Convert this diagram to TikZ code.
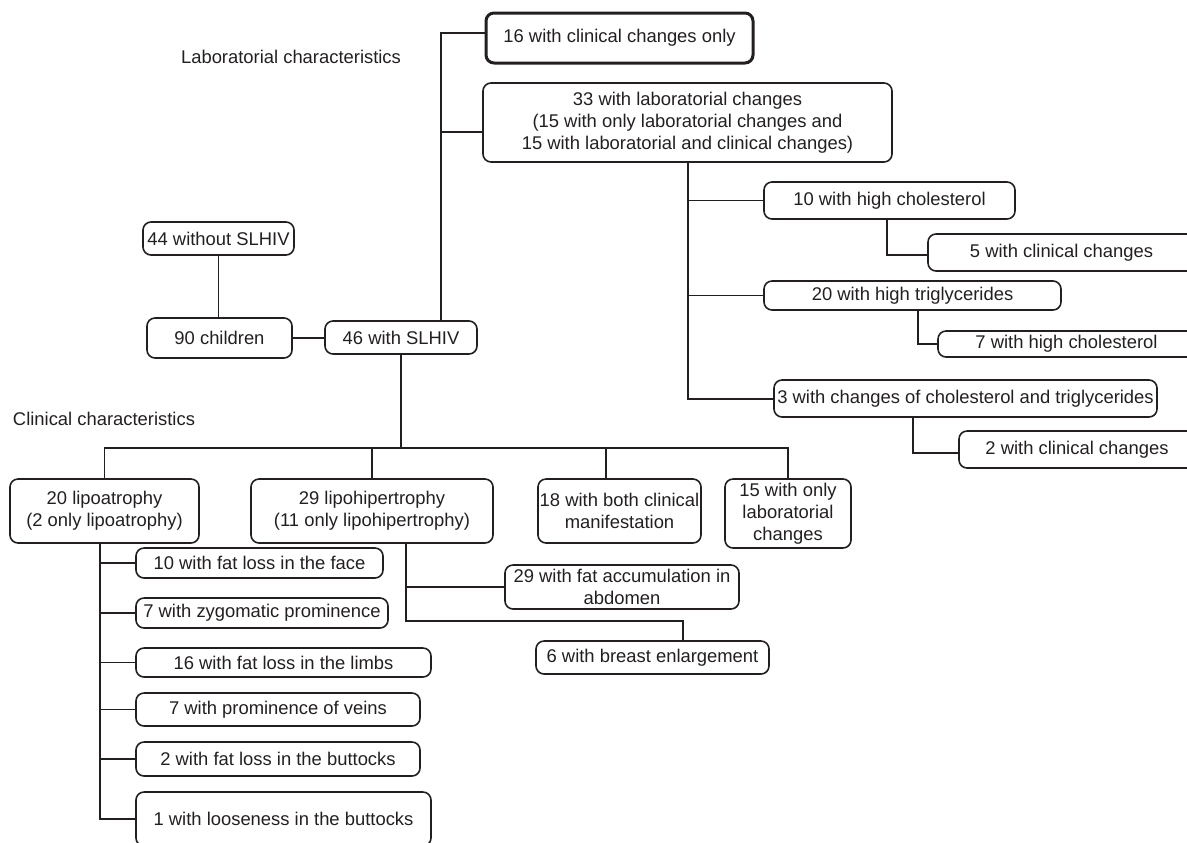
\documentclass[tikz,border=0pt]{standalone}
\usepackage{fontspec}
\setmainfont{Liberation Sans}
\definecolor{ink}{RGB}{35,31,32}
\begin{document}
\begin{tikzpicture}[x=0.5pt,y=-0.5pt,
  every node/.style={text=ink,font=\fontsize{9.2}{11}\selectfont},
  box/.style={draw=ink,line width=0.8pt,rounded corners=4pt,inner sep=0pt,align=center},
  sz/.style 2 args={minimum width=#1*0.5pt,minimum height=#2*0.5pt},
  ln/.style={draw=ink,line width=0.8pt}]
\useasboundingbox (0,0) rectangle (1187,842);
\clip (0,0) rectangle (1187,842);
% titles
\node (labt) at (291,57) {Laboratorial characteristics};
\node (clint) at (104,419) {Clinical characteristics};
% top / laboratorial
\node[box,line width=1.5pt,sz={267}{50}] (c16) at (619.5,38) {16 with clinical changes only};
\node[box,sz={409}{79}] (c33) at (687.5,122.5) {33 with laboratorial changes\\(15 with only laboratorial changes and\\15 with laboratorial and clinical changes)};
\node[box,sz={251}{37}] (c10) at (889.5,200.5) {10 with high cholesterol};
\node[box,sz={267}{37}] (c5) at (1061.5,252.5) {5 with clinical changes};
\node[box,sz={297}{29}] (c20) at (912.5,295.5) {20 with high triglycerides};
\node[box,sz={257}{26}] (c7) at (1066.5,344) {7 with high cholesterol};
\node[box,sz={383}{37}] (c3) at (965.5,398.5) {3 with changes of cholesterol and triglycerides};
\node[box,sz={236}{37}] (c2) at (1077,449.5) {2 with clinical changes};
% middle
\node[box,sz={151}{33}] (w44) at (218.5,238.5) {44 without SLHIV};
\node[box,sz={145}{40}] (ch90) at (219.5,338) {90 children};
\node[box,sz={152}{33}] (s46) at (401,337.5) {46 with SLHIV};
% clinical
\node[box,sz={189}{64}] (lipoA) at (104.5,511) {20 lipoatrophy\\(2 only lipoatrophy)};
\node[box,sz={242}{64}] (lipoH) at (372,511) {29 lipohipertrophy\\(11 only lipohipertrophy)};
\node[box,sz={163}{64}] (both18) at (619.5,511) {18 with both clinical\\manifestation};
\node[box,sz={126}{69}] (only15) at (788,513.5) {15 with only\\laboratorial\\changes};
\node[box,sz={247}{30}] (face10) at (259.5,563) {10 with fat loss in the face};
\node[box,sz={252}{30}] (zyg7) at (262,613) {7 with zygomatic prominence};
\node[box,sz={295}{29}] (limbs16) at (283.5,662.5) {16 with fat loss in the limbs};
\node[box,sz={284}{33}] (veins7) at (278,709.5) {7 with prominence of veins};
\node[box,sz={284}{34}] (butt2) at (278,759) {2 with fat loss in the buttocks};
\node[box,sz={295}{54}] (loose1) at (283.5,819) {1 with looseness in the buttocks};
\node[box,sz={234}{44}] (abd29) at (622,587) {29 with fat accumulation in\\abdomen};
\node[box,sz={233}{33}] (breast6) at (652.5,657.5) {6 with breast enlargement};
% junction coordinates
\coordinate (t1) at (441,33);
\coordinate (t2) at (441,132);
\coordinate (v33) at (688,399);
\coordinate (k5) at (887,255);
\coordinate (k7) at (918,344);
\coordinate (k2) at (913,453);
\coordinate (h1) at (401,448);
\coordinate (d18) at (606,448);
\coordinate (va) at (100,819);
\coordinate (vh) at (406,621);
\coordinate (bh) at (683,621);
\coordinate (ah) at (406,587);
% connectors
\draw[ln] (s46.north -| t1) -- (t1) -- (t1 -| c16.west);
\draw[ln] (t2) -- (t2 -| c33.west);
\draw[ln] (c33.south -| v33) -- (v33) -- (v33 -| c3.west);
\draw[ln] (c10.west -| v33) -- (c10.west);
\draw[ln] (c20.west -| v33) -- (c20.west);
\draw[ln] (c10.south -| k5) -- (k5) -- (k5 -| c5.west);
\draw[ln] (c20.south -| k7) -- (k7) -- (k7 -| c7.west);
\draw[ln] (c3.south -| k2) -- (k2) -- (k2 -| c2.west);
\draw[ln] (w44.south) -- (w44.south |- ch90.north);
\draw[ln] (ch90.east) -- (ch90.east -| s46.west);
\draw[ln] (s46.south) -- (h1);
\draw[ln] (lipoA.north) -- (lipoA.north |- h1) -- (only15.north |- h1) -- (only15.north);
\draw[ln] (lipoH.north |- h1) -- (lipoH.north);
\draw[ln] (d18) -- (d18 |- both18.north);
\draw[ln] (lipoA.south -| va) -- (va) -- (va -| loose1.west);
\draw[ln] (face10.west -| va) -- (face10.west);
\draw[ln] (zyg7.west -| va) -- (zyg7.west);
\draw[ln] (limbs16.west -| va) -- (limbs16.west);
\draw[ln] (veins7.west -| va) -- (veins7.west);
\draw[ln] (butt2.west -| va) -- (butt2.west);
\draw[ln] (lipoH.south -| vh) -- (vh) -- (bh) -- (bh |- breast6.north);
\draw[ln] (ah) -- (ah -| abd29.west);
\end{tikzpicture}
\end{document}
